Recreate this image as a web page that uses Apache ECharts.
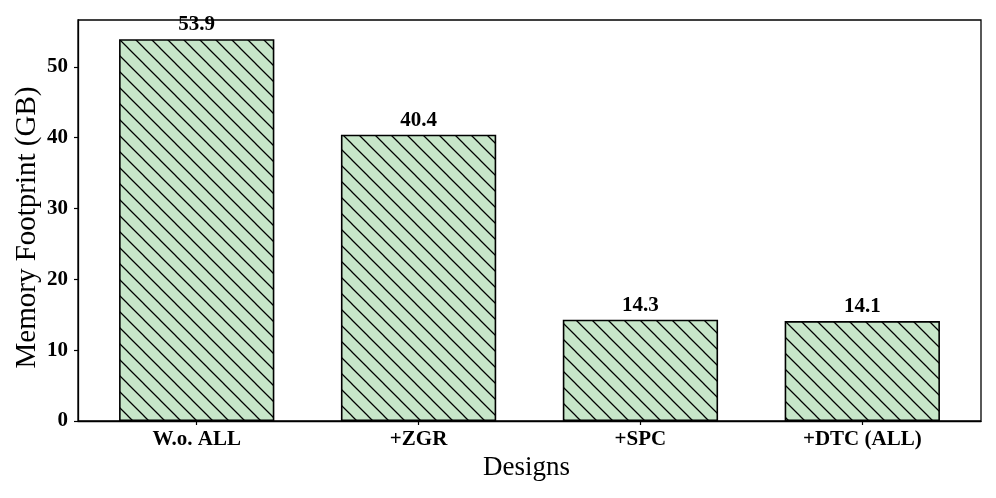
<!DOCTYPE html>
<html>
<head>
<meta charset="utf-8">
<script src="https://cdn.jsdelivr.net/npm/echarts@6/dist/echarts.min.js"></script>
<style>
  html, body { margin: 0; padding: 0; background: #fff; }
  #chart { width: 996px; height: 498px; }
</style>
</head>
<body>
<div id="chart"></div>
<script>
// data
const designs = ['W.o. ALL', '+ZGR', '+SPC', '+DTC (ALL)'];
const memoryGB = [53.9, 40.4, 14.3, 14.1];
const yTicks = [0, 10, 20, 30, 40, 50];

const FONT = "'Liberation Serif', 'Times New Roman', serif";

// hatch pattern: light green with "\\" lines
const makeHatch = () => {
  const s = 16;
  const c = document.createElement('canvas');
  c.width = s; c.height = s;
  const ctx = c.getContext('2d');
  ctx.fillStyle = '#c7e6c9';
  ctx.fillRect(0, 0, s, s);
  ctx.strokeStyle = '#000';
  ctx.lineWidth = 1.25;
  ctx.beginPath();
  ctx.moveTo(-2, -2); ctx.lineTo(s + 2, s + 2);
  ctx.moveTo(-2, s - 2); ctx.lineTo(2, s + 2);
  ctx.moveTo(s - 2, -2); ctx.lineTo(s + 2, 2);
  ctx.stroke();
  return c;
};

const chart = echarts.init(document.getElementById('chart'));

const option = {
  animation: false,
  grid: {
    left: 78, right: 15, top: 20, bottom: 77,
    show: true, borderColor: '#000', borderWidth: 1.3
  },
  xAxis: {
    type: 'value',
    min: -0.535,
    max: 3.535,
    name: 'Designs',
    nameLocation: 'middle',
    nameGap: 33,
    nameMoveOverlap: false,
    nameTextStyle: { fontFamily: FONT, fontSize: 27, color: '#000', padding: [0, 6, 0, 0] },
    axisLine: { show: true, onZero: false, lineStyle: { color: '#000', width: 1.3 } },
    axisTick: {
      show: true, length: 4, inside: false,
      customValues: designs.map((d, i) => i),
      lineStyle: { color: '#000', width: 1.2 }
    },
    axisLabel: {
      customValues: designs.map((d, i) => i),
      formatter: (v) => designs[Math.round(v)],
      margin: 8,
      fontFamily: FONT, fontSize: 21, fontWeight: 'bold', color: '#000'
    },
    splitLine: { show: false }
  },
  yAxis: {
    type: 'value',
    min: 0,
    max: 56.6,
    name: 'Memory Footprint (GB)',
    nameLocation: 'middle',
    nameGap: 36,
    nameMoveOverlap: false,
    nameTextStyle: { fontFamily: FONT, fontSize: 29, color: '#000', padding: [0, 14, 0, 0] },
    axisLine: { show: true, onZero: false, lineStyle: { color: '#000', width: 1.3 } },
    axisTick: {
      show: true, length: 4, inside: false,
      customValues: yTicks,
      lineStyle: { color: '#000', width: 1.2 }
    },
    axisLabel: {
      customValues: yTicks,
      margin: 10,
      fontFamily: FONT, fontSize: 21, fontWeight: 'bold', color: '#000'
    },
    splitLine: { show: false }
  },
  series: [
    {
      type: 'bar',
      barWidth: '70%',
      data: memoryGB.map((v, i) => [i, v]),
      itemStyle: {
        color: { image: makeHatch(), repeat: 'repeat' },
        borderColor: '#000',
        borderWidth: 1.6
      },
      label: {
        show: true,
        position: 'top',
        distance: 4,
        formatter: (p) => p.value[1].toFixed(1),
        fontFamily: FONT, fontSize: 21, fontWeight: 'bold', color: '#000'
      }
    }
  ]
};

chart.setOption(option);
</script>
</body>
</html>
